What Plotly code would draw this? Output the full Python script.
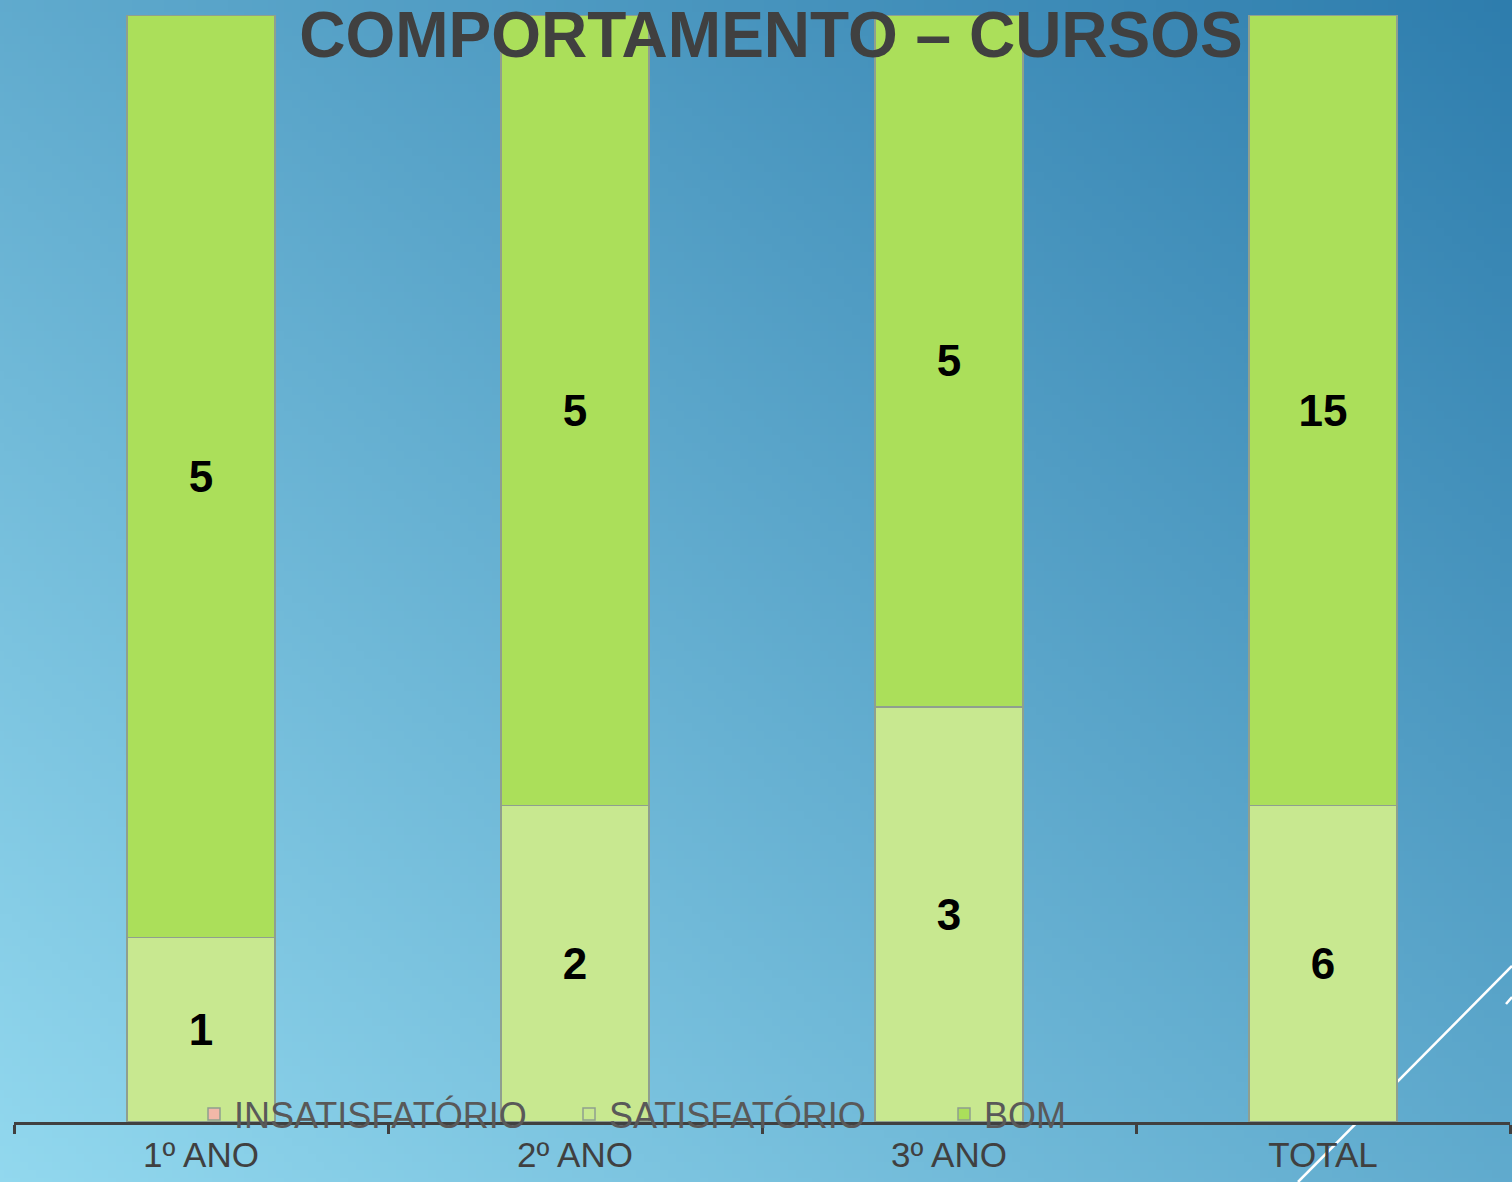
import zlib, struct, base64
import plotly.graph_objects as go

# ---- data ----
categories = ["1º ANO", "2º ANO", "3º ANO", "TOTAL"]
insatisfatorio = [0, 0, 0, 0]
satisfatorio = [1, 2, 3, 6]
bom = [5, 5, 5, 15]
series_names = ["INSATISFATÓRIO", "SATISFATÓRIO", "BOM"]
title_text = "COMPORTAMENTO – CURSOS"

# ---- style ----
colors = ["#f2b8a8", "#c8e890", "#abdf5a"]
W, H = 1512, 1182
ML, MR, MT, MB = 14, 2, 15, 60
FONT = "Liberation Sans, Arial, sans-serif"


def gradient_png(w, h, c0, c1):
    rows = []
    for yy in range(h):
        row = bytearray(b"\x00")
        for xx in range(w):
            t = (xx / (w - 1) + (1 - yy / (h - 1))) / 2.0
            row += bytes(int(round(a + (b - a) * t)) for a, b in zip(c0, c1))
        rows.append(bytes(row))
    raw = b"".join(rows)

    def chunk(tag, data):
        return (struct.pack(">I", len(data)) + tag + data +
                struct.pack(">I", zlib.crc32(tag + data) & 0xFFFFFFFF))

    png = (b"\x89PNG\r\n\x1a\n" +
           chunk(b"IHDR", struct.pack(">IIBBBBB", w, h, 8, 2, 0, 0, 0)) +
           chunk(b"IDAT", zlib.compress(raw, 9)) + chunk(b"IEND", b""))
    return "data:image/png;base64," + base64.b64encode(png).decode()


bg_src = gradient_png(189, 148, (146, 216, 238), (46, 125, 173))

pw = W - ML - MR
ph = H - MT - MB


def px_x(x):
    return (x - ML) / pw


def px_y(y):
    return (H - MB - y) / ph


fig = go.Figure()
for name, vals, col in zip(series_names, [insatisfatorio, satisfatorio, bom], colors):
    fig.add_trace(go.Bar(
        name=name, x=categories, y=vals,
        text=[str(v) if v else "" for v in vals],
        textposition="inside", insidetextanchor="middle", textangle=0,
        constraintext="none",
        textfont=dict(family=FONT, size=44, color="#000000", weight="bold"),
        marker=dict(color=col, line=dict(color="#8f9f8f", width=1.5)),
        hoverinfo="skip",
    ))

fig.update_layout(
    width=W, height=H,
    barmode="stack", barnorm="fraction", bargap=0.604,
    margin=dict(l=ML, r=MR, t=MT, b=MB, pad=0),
    paper_bgcolor="rgba(0,0,0,0)", plot_bgcolor="rgba(0,0,0,0)",
    title=dict(text=title_text, x=771 / W, xanchor="center", xref="container",
               y=1 - 35 / H, yanchor="middle", yref="container",
               font=dict(family=FONT, size=64, color="#404040", weight="bold")),
    xaxis=dict(showline=True, linecolor="#404040", linewidth=3,
               ticks="outside", tickson="boundaries", ticklen=9, tickwidth=3,
               tickcolor="#404040", showgrid=False, zeroline=False,
               tickfont=dict(family=FONT, size=35, color="#404040")),
    yaxis=dict(visible=False, range=[0, 1], showgrid=False, zeroline=False),
    legend=dict(orientation="h", x=px_x(194), xanchor="left", y=px_y(1114), yanchor="middle",
                bgcolor="rgba(0,0,0,0)", traceorder="normal",
                entrywidth=330, entrywidthmode="pixels",
                font=dict(family=FONT, size=36, color="#595959")),
    showlegend=True,
    images=[dict(source=bg_src, xref="paper", yref="paper",
                 x=px_x(0), y=px_y(0), sizex=W / pw, sizey=H / ph,
                 xanchor="left", yanchor="top", sizing="stretch", layer="below")],
    shapes=[
        dict(type="line", xref="paper", yref="paper", layer="below",
             x0=px_x(1298), y0=px_y(1182), x1=px_x(1512), y1=px_y(966),
             line=dict(color="white", width=2.5)),
        dict(type="line", xref="paper", yref="paper", layer="below",
             x0=px_x(1506), y0=px_y(1004), x1=px_x(1512), y1=px_y(997),
             line=dict(color="white", width=2.5)),
    ],
)

fig.write_html("out.html", config={"displayModeBar": False},
               post_script="document.body.style.margin='0';")
